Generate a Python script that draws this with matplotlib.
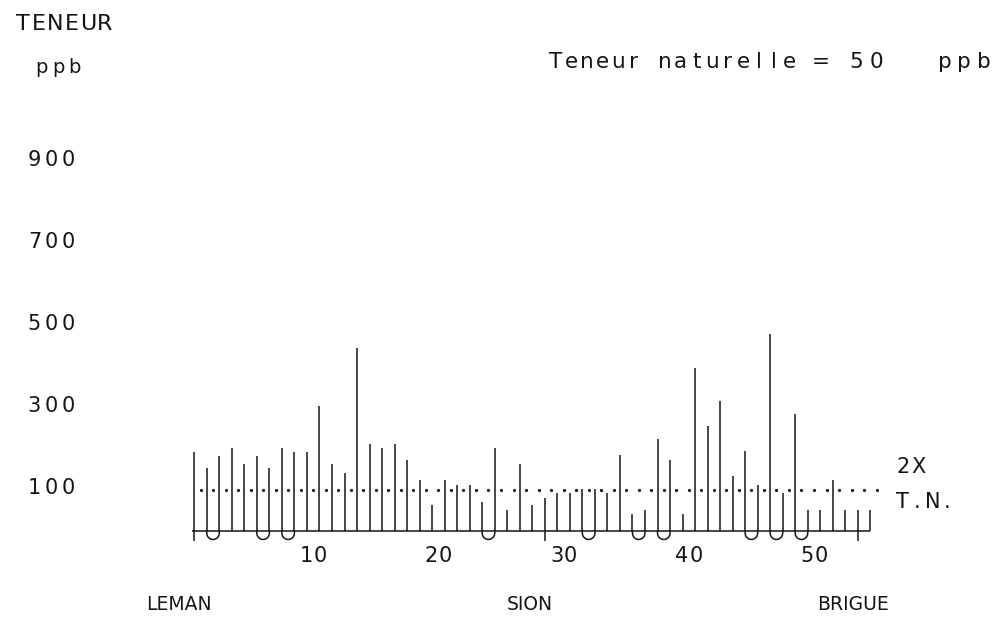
import numpy as np
import matplotlib
matplotlib.use("Agg")
import matplotlib.pyplot as plt
import matplotlib.transforms as mtransforms

# teneur par station (ppb), 55 prélèvements du Léman à Brigue
stations = np.arange(1, 56)
teneur = [191, 153, 181, 201, 161, 181, 153, 201, 191, 191,
          304, 161, 141, 446, 211, 202, 211, 172, 122, 61,
          122, 111, 111, 69, 202, 50, 163, 61, 80, 91,
          91, 102, 102, 91, 183, 41, 50, 224, 173, 41,
          396, 254, 315, 132, 193, 111, 480, 91, 285, 50,
          50, 122, 50, 50, 50]
# paires reliées sous l'axe
paires = [(2, 3), (6, 7), (8, 9), (24, 25), (32, 33), (36, 37),
          (38, 39), (45, 46), (47, 48), (49, 50)]
# stations repères (trait sous l'axe)
reperes = [1, 29, 54]
teneur_nat = 50
y_ticks = [100, 300, 500, 700, 900]
x_ticks = [10, 20, 30, 40, 50]
lieux = ["LEMAN", "SION", "BRIGUE"]

INK = "#151515"
W, H = 997, 618
X0, DX = 188.0, 12.52   # pixel de x=0, pixels par station
Y0, DY = 530.5, 0.41    # pixel de 0 ppb, pixels par ppb

fig = plt.figure(figsize=(W / 100, H / 100), dpi=100)
ax = fig.add_axes([0, 0, 1, 1])
ax.axis('off')
ax.set_xlim(-X0 / DX, (W - X0) / DX)
ax.set_ylim(-(H - Y0) / DY, Y0 / DY)

# repère en pixels (origine en haut à gauche)
px = mtransforms.Affine2D().scale(1 / W, -1 / H).translate(0, 1) + fig.transFigure


def spaced(x, y, s, step, size, trans, center=False, dy=0):
    """Texte façon traceur : un caractère par case de largeur fixe."""
    start = -len(s) * step / 2 if center else 0
    for k, ch in enumerate(s):
        if ch == ' ':
            continue
        t = mtransforms.offset_copy(trans, fig=fig, x=start + step * (k + 0.5),
                                    y=dy, units='dots')
        ax.text(x, y, ch, transform=t, ha='center', va='baseline',
                fontsize=size, color=INK)


x = stations - 0.5
lw = 1.1

# barres
ax.vlines(x, 0, teneur, color=INK, lw=lw)
ax.vlines(x[np.array(reperes) - 1], -25, 0, color=INK, lw=lw)

# liaisons en U
r_y = 0.5 * DX / DY
t = np.linspace(np.pi, 2 * np.pi, 40)
for a, b in paires:
    xa, xb = x[a - 1], x[b - 1]
    xc = (xa + xb) / 2
    ux = np.concatenate([[xa], xc + 0.5 * np.cos(t), [xb]])
    uy = np.concatenate([[0], -6.5 + r_y * np.sin(t), [0]])
    ax.plot(ux, uy, color=INK, lw=lw, solid_capstyle='butt')

# axe de base
ax.hlines(0, 0.35, x[-1], color=INK, lw=lw)

# ligne 2 x teneur naturelle
ax.plot(stations, [2 * teneur_nat] * len(stations), ls='none', marker='o',
        ms=2.3, mew=0, color=INK)

# étiquettes
spaced(15, 30, "TENEUR", 16.2, 16, px)
spaced(33, 73, "ppb", 16.7, 14, px)
spaced(548, 68, "Teneur naturelle =", 15.6, 15.5, px)
spaced(846, 68, str(teneur_nat), 20.5, 15.5, px)
spaced(935, 68, "ppb", 19.4, 15.5, px)

ytr = mtransforms.blended_transform_factory(px, ax.transData)
for v in y_ticks:
    spaced(26, v, str(v), 16.8, 15, ytr, dy=-5)

xtr = mtransforms.blended_transform_factory(ax.transData, px)
for v in x_ticks:
    spaced(v, 562, str(v), 14, 15, xtr, center=True)

spaced(895, 473, "2X", 15.5, 15, px)
spaced(895, 508, "T.N.", 15, 15, px)

for name, xp in zip(lieux, [179, 530, 853]):
    ax.text(xp / W, 1 - 605 / H, name, transform=fig.transFigure,
            ha='center', va='center', fontsize=13.5, color=INK)

fig.savefig("out.png", dpi=100, facecolor='white')
